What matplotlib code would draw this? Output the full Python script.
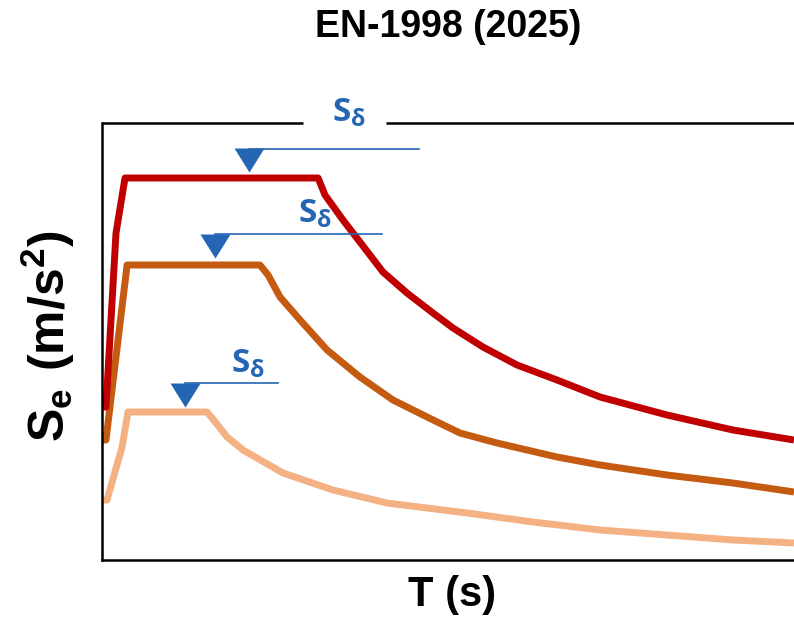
import matplotlib
matplotlib.use('Agg')
import matplotlib.pyplot as plt
from matplotlib.lines import Line2D

plt.rcParams['mathtext.fontset'] = 'custom'
plt.rcParams['mathtext.bf'] = 'Liberation Sans:bold'
plt.rcParams['mathtext.rm'] = 'Liberation Sans:bold'
plt.rcParams['mathtext.sf'] = 'Open Sans:bold'
plt.rcParams['mathtext.it'] = 'Open Sans:bold'

# spectra (T in s, Se in arbitrary units)
t_high = [0.0, 0.023, 0.081, 0.133, 1.249, 1.289, 1.393, 1.491, 1.624, 1.763,
          1.913, 2.029, 2.202, 2.399, 2.630, 2.879, 3.266, 3.647, 4.0]
se_high = [3.06, 3.06, 6.54, 7.64, 7.64, 7.30, 6.80, 6.36, 5.76, 5.34,
           4.94, 4.64, 4.26, 3.90, 3.60, 3.26, 2.90, 2.60, 2.40]

t_mid = [0.0, 0.023, 0.145, 0.913, 0.960, 1.029, 1.145, 1.301, 1.491, 1.682,
         1.879, 2.069, 2.283, 2.630, 2.879, 3.266, 3.647, 4.0]
se_mid = [2.40, 2.40, 5.90, 5.90, 5.70, 5.26, 4.80, 4.20, 3.66, 3.20,
          2.86, 2.54, 2.34, 2.06, 1.90, 1.70, 1.54, 1.36]

t_low = [0.0, 0.029, 0.116, 0.150, 0.607, 0.636, 0.723, 0.815, 1.046, 1.335,
         1.647, 2.110, 2.491, 2.879, 3.266, 3.647, 4.0]
se_low = [1.20, 1.20, 2.26, 2.96, 2.96, 2.84, 2.46, 2.20, 1.74, 1.40,
          1.14, 0.94, 0.76, 0.60, 0.50, 0.40, 0.34]

# S_delta markers: triangle position, line level and end, label position
sd_t = [0.850, 0.653, 0.480]
sd_se = [8.00, 6.28, 3.30]
sd_line_se = [8.22, 6.52, 3.54]
sd_line_end = [1.832, 1.618, 1.017]
sd_label_t = [1.43, 1.231, 0.844]
sd_label_se = [8.96, 6.94, 3.92]

colors = ['#C00000', '#C55A11', '#F4B183']
blue = '#2466B4'

fig = plt.figure(figsize=(7.94, 6.29), dpi=100)
ax = fig.add_axes([102 / 794, 1 - 560 / 629, 1 - 102 / 794, (560 - 123) / 629])
ax.set_xlim(0, 4.0)
ax.set_ylim(0, 8.74)

for t, se, c in [(t_low, se_low, colors[2]), (t_mid, se_mid, colors[1]), (t_high, se_high, colors[0])]:
    ax.plot(t, se, color=c, lw=5, solid_joinstyle='round', solid_capstyle='butt', clip_on=False)

tri = [(-1, 0.8), (1, 0.8), (0, -0.8)]
for i in range(3):
    ax.plot([sd_t[i], sd_line_end[i]], [sd_line_se[i], sd_line_se[i]], color=blue, lw=1.2, clip_on=False)
    ax.plot(sd_t[i], sd_se[i], marker=tri, ms=21.6, color=blue, mec='none', clip_on=False, zorder=4)
    ax.text(sd_label_t[i], sd_label_se[i], r'$\mathsf{S_{\delta}}$', color=blue, fontsize=24,
            ha='center', va='center')

for s in ['top', 'right']:
    ax.spines[s].set_visible(False)
for s in ['left', 'bottom']:
    ax.spines[s].set_linewidth(1.8)
    ax.spines[s].set_color('black')
# top frame with a gap for the label
gap = [(303 - 102) / 173, (386 - 102) / 173]
for x0, x1 in [(0, gap[0]), (gap[1], 4.0)]:
    ax.add_line(Line2D([x0, x1], [1, 1], transform=ax.get_xaxis_transform(), color='black',
                       lw=1.8, clip_on=False, solid_capstyle='butt'))

ax.set_xticks([])
ax.set_yticks([])

fig.text(448 / 794, 1 - 27 / 629, 'EN-1998 (2025)', family='Liberation Sans', weight='bold',
         fontsize=27, ha='center', va='center')
fig.text(452 / 794, 1 - 595 / 629, 'T (s)', family='Liberation Sans', weight='bold',
         fontsize=30, ha='center', va='center')
fig.text(48 / 794, 1 - 336 / 629, r'$\mathbf{S_e\ (m/s^2)}$', fontsize=36,
         rotation=90, ha='center', va='center')

fig.savefig('out.png', dpi=100)
